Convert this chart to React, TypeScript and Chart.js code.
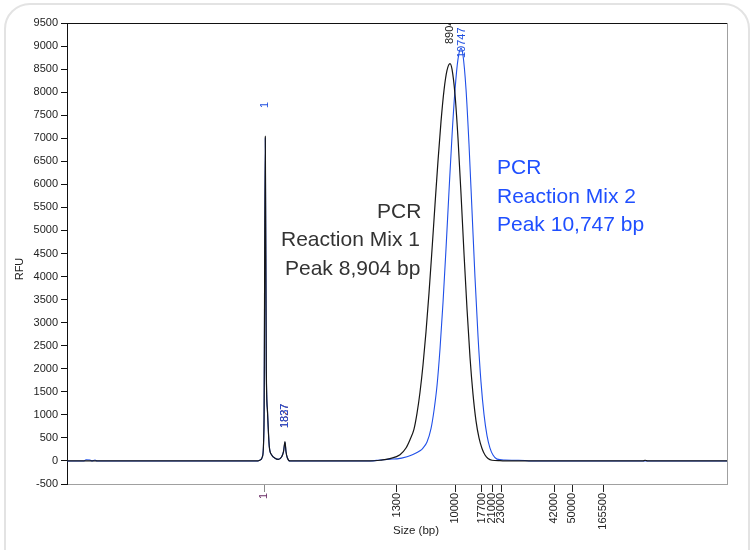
import React, { useEffect, useRef } from 'react';
import { Chart, registerables } from 'chart.js';

Chart.register(...registerables);

// Scan position (instrument data points) and RFU signal for each trace
const mix1Scan = [0, 191, 194, 195.5, 197, 198.3, 199.3, 200.5, 202.3, 204.7, 208, 211.3, 214.7, 216.5, 218, 219, 220.3, 223, 303, 313, 323, 333, 339, 343, 347, 350, 353, 356, 359, 362, 365, 368, 371, 374, 377, 380, 383, 385, 388, 391, 394, 397, 400, 403, 406, 409, 412, 415, 418, 421, 425, 433, 443, 576, 578, 581, 660];
const mix1RFU = [0, 0, 30, 100, 800, 7040, 2000, 1070, 310, 130, 60, 35, 90, 200, 420, 200, 70, 0, 0, 15, 50, 135, 280, 460, 690, 1030, 1490, 2080, 2800, 3640, 4580, 5560, 6510, 7360, 8040, 8470, 8620, 8500, 7950, 7000, 5800, 4500, 3300, 2250, 1450, 870, 500, 270, 130, 55, 15, 5, 0, 0, 15, 0, 0];

const mix2Scan = [0, 17, 19, 23, 25, 28, 30, 191, 194, 195.5, 197, 198.3, 199.3, 200.5, 202.3, 204.7, 208, 211.3, 214.7, 216.5, 218, 219, 220.3, 223, 303, 313, 323, 330, 340, 346, 353, 356, 360, 364, 367, 370, 373, 376, 379, 382, 385, 388, 391, 394, 396, 399, 402, 405, 408, 411, 414, 417, 420, 423, 426, 430, 438, 448, 458, 463, 660];
const mix2RFU = [0, 0, 25, 20, 0, 20, 0, 0, 30, 100, 800, 7000, 2000, 1070, 310, 130, 60, 35, 90, 200, 400, 200, 70, 0, 0, 20, 40, 45, 90, 140, 220, 280, 410, 700, 1095, 1630, 2430, 3430, 4600, 5850, 7045, 8045, 8715, 8950, 8800, 8070, 6870, 5430, 3980, 2710, 1710, 1010, 550, 280, 130, 40, 20, 15, 10, 0, 0];

// Size ladder ticks (bp) at their scan positions
const sizeTickScan = [197, 329.7, 388, 414.7, 425, 434, 487, 505, 536];
const sizeTickLabels = ['1', '1300', '10000', '17700', '21000', '23000', '42000', '50000', '165500'];

const scanMin = 0;
const scanMax = 660;
const rfuMin = -500;
const rfuMax = 9500;
const rfuStep = 500;

// Peak call labels
const peakLabelText = ['1827', '1837', '1', '8904', '10747'];
const peakLabelScan = [218, 218, 198, 383, 394.5];
const peakLabelColor = ['#7a2a2a', '#1f4fe0', '#1f4fe0', '#1a1a1a', '#1f4fe0'];
const peakLabelBase = [428, 428, 108, 44, 58];

const BLACK = '#161616';
const BLUE = '#1f4fe8';

const overlay = {
  id: 'overlay',
  afterDatasetsDraw(chart: any) {
    const { ctx, chartArea: a, scales } = chart;
    ctx.save();
    ctx.beginPath();
    ctx.rect(a.left, a.top, a.right - a.left, a.bottom - a.top);
    ctx.clip();
    ctx.font = '11px "Liberation Sans", Arial, sans-serif';
    ctx.textAlign = 'left';
    ctx.textBaseline = 'middle';
    peakLabelText.forEach((t, i) => {
      const x = scales.x.getPixelForValue(peakLabelScan[i]);
      ctx.save();
      ctx.translate(x, peakLabelBase[i]);
      ctx.rotate(-Math.PI / 2);
      ctx.fillStyle = peakLabelColor[i];
      ctx.fillText(t, 0, 0);
      ctx.restore();
    });
    ctx.restore();
  },
  afterDraw(chart: any) {
    const { ctx, chartArea: a } = chart;
    ctx.save();
    ctx.lineWidth = 1;
    ctx.strokeStyle = '#111';
    ctx.beginPath();
    ctx.moveTo(a.left, a.top + 0.5);
    ctx.lineTo(a.right, a.top + 0.5);
    ctx.stroke();
    ctx.strokeStyle = '#a0a0a0';
    ctx.beginPath();
    ctx.moveTo(a.right + 0.5, a.top);
    ctx.lineTo(a.right + 0.5, a.bottom);
    ctx.stroke();

    ctx.fillStyle = '#222';
    ctx.font = '11.5px "Liberation Sans", Arial, sans-serif';
    ctx.textAlign = 'center';
    ctx.textBaseline = 'middle';
    ctx.fillText('Size (bp)', 416, 531);
    ctx.save();
    ctx.translate(20, 269);
    ctx.rotate(-Math.PI / 2);
    ctx.font = '11px "Liberation Sans", Arial, sans-serif';
    ctx.fillText('RFU', 0, 0);
    ctx.restore();

    ctx.font = '21px "Liberation Sans", Arial, sans-serif';
    ctx.textAlign = 'left';
    ctx.textBaseline = 'middle';
    ctx.fillStyle = '#333333';
    ctx.fillText('PCR', 377, 212);
    ctx.fillText('Reaction Mix 1', 281, 240);
    ctx.fillText('Peak 8,904 bp', 285, 269);
    ctx.fillStyle = '#1f4fff';
    ctx.fillText('PCR', 497, 168);
    ctx.fillText('Reaction Mix 2', 497, 197);
    ctx.fillText('Peak 10,747 bp', 497, 225);
    ctx.restore();
  },
};

export default function App() {
  const ref = useRef<HTMLCanvasElement>(null);
  useEffect(() => {
    const mix1 = mix1Scan.map((x, i) => ({ x, y: mix1RFU[i] }));
    const mix2 = mix2Scan.map((x, i) => ({ x, y: mix2RFU[i] }));
    const chart = new Chart(ref.current as HTMLCanvasElement, {
      type: 'line',
      data: {
        datasets: [
          { label: 'PCR Reaction Mix 1', data: mix1, borderColor: BLACK, borderWidth: 1.2, pointRadius: 0, cubicInterpolationMode: 'monotone', fill: false },
          { label: 'PCR Reaction Mix 2', data: mix2, borderColor: BLUE, borderWidth: 1.1, pointRadius: 0, cubicInterpolationMode: 'monotone', fill: false },
        ],
      },
      options: {
        responsive: false,
        devicePixelRatio: 1,
        animation: false,
        layout: { padding: { top: 23, right: 24, left: 0, bottom: 0 } },
        plugins: { legend: { display: false }, tooltip: { enabled: false } },
        scales: {
          x: {
            type: 'linear',
            min: scanMin,
            max: scanMax,
            afterBuildTicks: (s: any) => {
              s.ticks = sizeTickScan.map((v) => ({ value: v }));
            },
            afterFit: (s: any) => {
              s.height = 66;
            },
            ticks: {
              autoSkip: false,
              minRotation: 90,
              maxRotation: 90,
              padding: 1,
              color: (c: any) => (c.index === 0 ? '#6a2d66' : '#222'),
              font: { family: '"Liberation Sans", Arial, sans-serif', size: 11 },
              callback: (_v: any, i: number) => sizeTickLabels[i],
            },
            grid: {
              drawOnChartArea: false,
              drawTicks: true,
              tickLength: 8,
              tickColor: (c: any) => (c.index === 0 ? '#8a8a8a' : '#222'),
            },
            border: { display: true, color: '#a0a0a0', width: 1 },
          },
          y: {
            type: 'linear',
            min: rfuMin,
            max: rfuMax,
            afterFit: (s: any) => {
              s.width = 67;
            },
            ticks: {
              stepSize: rfuStep,
              padding: 3,
              color: '#222',
              font: { family: '"Liberation Sans", Arial, sans-serif', size: 11 },
              callback: (v: any) => String(v),
            },
            grid: { drawOnChartArea: false, drawTicks: true, tickLength: 6, tickColor: '#111' },
            border: { display: true, color: '#111', width: 1 },
          },
        },
      },
      plugins: [overlay],
    } as any);
    return () => chart.destroy();
  }, []);
  return (
    <div style={{ position: 'absolute', left: 0, top: 0, width: 751, height: 550, overflow: 'hidden', background: '#fff' }}>
      <div
        style={{
          position: 'absolute',
          left: 4,
          top: 3,
          width: 746,
          height: 620,
          border: '2px solid #e3e3e3',
          borderRadius: 26,
          boxSizing: 'border-box',
        }}
      />
      <canvas ref={ref} width={751} height={550} style={{ position: 'absolute', left: 0, top: 0, width: 751, height: 550 }} />
    </div>
  );
}
